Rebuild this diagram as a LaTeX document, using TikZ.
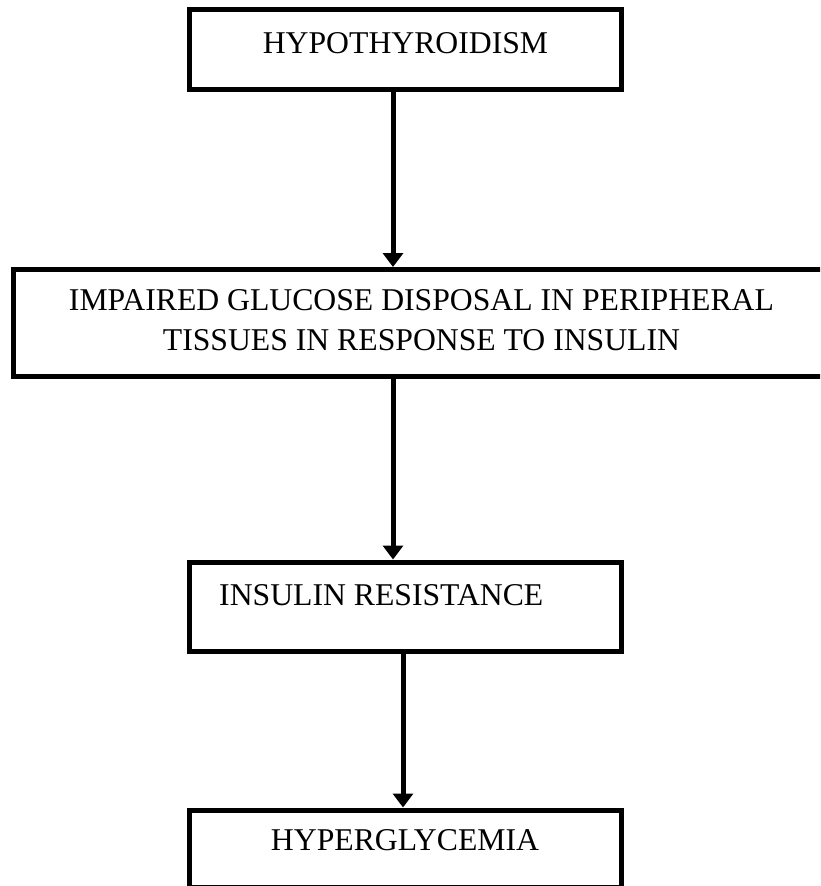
\documentclass[tikz,border=0pt]{standalone}
\usepackage{fontspec}
\setmainfont{Liberation Serif}
\usetikzlibrary{arrows.meta}
\begin{document}
\begin{tikzpicture}[x=1pt,y=-1pt,
  box/.style={draw=black,line width=5pt,rectangle,inner sep=0pt,fill=white},
  label/.style={inner sep=0pt,font=\fontsize{31.7}{40}\selectfont},
  flow/.style={line width=5pt,-{Triangle[width=20pt,length=14pt]}}]
\useasboundingbox (0,0) rectangle (820,886);
\clip (0,0) rectangle (820,886);

% boxes
\node[box,minimum width=432pt,minimum height=80pt]  (hypo)  at (405.5,49.5)  {};
\node[box,minimum width=816pt,minimum height=107pt] (impair) at (421.5,323)  {};
\node[box,minimum width=432pt,minimum height=89pt]  (resist) at (405.5,606.5) {};
\node[box,minimum width=432pt,minimum height=77pt]  (hyper) at (405.5,848.5) {};

% texts
\node[label,anchor=base] (t1) at (405.5,53) {HYPOTHYROIDISM};
\node[label,anchor=base] (t2a) at (421.5,310) {IMPAIRED GLUCOSE DISPOSAL IN PERIPHERAL};
\node[label,anchor=base] (t2b) at (421.5,350) {TISSUES IN RESPONSE TO INSULIN};
\node[label,anchor=base west] (t3) at (219,605) {INSULIN RESISTANCE};
\node[label,anchor=base] (t4) at (405,850) {HYPERGLYCEMIA};

% connectors
\draw[flow] ([xshift=-12.5pt]hypo.south) -- ([xshift=-12.5pt]hypo.south |- impair.north);
\draw[flow] ([xshift=-12.5pt]resist.north |- impair.south) -- ([xshift=-12.5pt]resist.north);
\draw[flow] ([xshift=-2.5pt]resist.south) -- ([xshift=-2.5pt]resist.south |- hyper.north);
\end{tikzpicture}
\end{document}
